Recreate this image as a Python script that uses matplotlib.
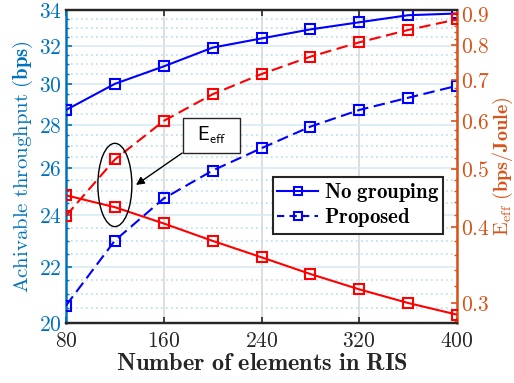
import numpy as np
import matplotlib
matplotlib.use('Agg')
import matplotlib.pyplot as plt
from matplotlib.ticker import FixedLocator, FixedFormatter, NullFormatter
from matplotlib.patches import Ellipse, Rectangle
from matplotlib.lines import Line2D

plt.rcParams['mathtext.fontset'] = 'cm'

# ---- data ----
n_elements = [80, 120, 160, 200, 240, 280, 320, 360, 400]
thr_no_grouping = [28.7, 30.0, 30.9, 31.9, 32.4, 32.9, 33.3, 33.7, 33.8]
thr_proposed = [20.6, 23.0, 24.7, 25.9, 26.9, 27.9, 28.7, 29.3, 29.9]
ee_no_grouping = [0.452, 0.432, 0.406, 0.380, 0.357, 0.335, 0.316, 0.300, 0.287]
ee_proposed = [0.418, 0.518, 0.600, 0.664, 0.717, 0.766, 0.809, 0.848, 0.883]

x_ticks = [80, 160, 240, 320, 400]
left_ticks = [20, 22, 24, 26, 28, 30, 32, 34]
right_ticks = [0.3, 0.4, 0.5, 0.6, 0.7, 0.8, 0.9]
legend_labels = ['No grouping', 'Proposed']

BLUE_AX = '#0072BD'
ORANGE_AX = '#D95319'
DARK = '#262626'
FS = 15.5

fig = plt.figure(figsize=(5.14, 3.83), dpi=100)
ax = fig.add_axes([66 / 514, 1 - 323 / 383, (457 - 66) / 514, 313 / 383])
ax2 = ax.twinx()

dash = (5.5, 2.7)
ax.plot(n_elements, thr_no_grouping, '-', color='blue', lw=1.5, marker='s',
        ms=7, mfc='none', mew=1.5, zorder=3)
lp, = ax.plot(n_elements, thr_proposed, '--', color='blue', lw=1.5, marker='s',
              ms=7, mfc='none', mew=1.5, zorder=3)
lp.set_dashes(dash)
ax2.plot(n_elements, ee_no_grouping, '-', color='red', lw=1.5, marker='s',
         ms=7, mfc='none', mew=1.5, zorder=3)
lr, = ax2.plot(n_elements, ee_proposed, '--', color='red', lw=1.5, marker='s',
               ms=7, mfc='none', mew=1.5, zorder=3)
lr.set_dashes(dash)

# x axis
ax.set_xlim(80, 400)
ax.set_xticks(x_ticks)
ax.set_xticklabels([f'${t}$' for t in x_ticks], fontsize=FS, color=DARK)
ax.set_xlabel(r'$\mathbf{Number\ of\ elements\ in\ RIS}$', fontsize=17.5, color=DARK, labelpad=0)

# left axis (log)
ax.set_yscale('log')
ax.set_ylim(20, 34)
ax.yaxis.set_major_locator(FixedLocator(left_ticks))
ax.yaxis.set_major_formatter(FixedFormatter([f'${t}$' for t in left_ticks]))
minor_left = [v for v in np.arange(20, 34.01, 0.5) if v not in left_ticks]
ax.yaxis.set_minor_locator(FixedLocator(minor_left))
ax.yaxis.set_minor_formatter(NullFormatter())
ax.set_ylabel(r'$\mathrm{Achivable\ throughput}\ \mathbf{(bps)}$', fontsize=15,
              color=BLUE_AX, labelpad=3)

# right axis (log)
ax2.set_yscale('log')
ax2.set_ylim(0.278, 0.915)
ax2.yaxis.set_major_locator(FixedLocator(right_ticks))
ax2.yaxis.set_major_formatter(FixedFormatter([f'${t}$' for t in right_ticks]))
minor_right = [v for v in np.arange(0.28, 0.911, 0.02) if min(abs(v - r) for r in right_ticks) > 1e-6]
ax2.yaxis.set_minor_locator(FixedLocator(minor_right))
ax2.yaxis.set_minor_formatter(NullFormatter())
fig.text(503 / 514, 1 - 166 / 383, r'$\mathrm{E}_{\mathrm{eff}}\ \mathbf{(bps/Joule)}$',
         fontsize=14.5, color=ORANGE_AX, rotation=90, ha='center', va='center')

# grid
ax.grid(True, axis='y', which='major', color='#d9eaf5', lw=1.2, ls='-')
ax.grid(True, axis='y', which='minor', color='#bcdcef', lw=1.2, ls=(0, (1, 2)))
ax.grid(True, axis='x', which='major', color='#dedede', lw=1.4, ls='-')
ax.set_axisbelow(True)

# ticks
ax.tick_params(axis='x', which='both', direction='in', top=True, color=DARK,
               length=4, width=1.2, labelsize=FS, pad=6)
ax.tick_params(axis='y', which='major', direction='in', color=BLUE_AX,
               labelcolor=BLUE_AX, length=4, width=1.2, labelsize=FS, right=False, pad=3)
ax.tick_params(axis='y', which='minor', direction='in', color=BLUE_AX,
               length=2.5, width=1.0, right=False)
ax2.tick_params(axis='y', which='major', direction='in', color=ORANGE_AX,
                labelcolor=ORANGE_AX, length=4, width=1.2, labelsize=FS, pad=3)
ax2.tick_params(axis='y', which='minor', direction='in', color=ORANGE_AX,
                length=2.5, width=1.0)

# spines
for a in (ax, ax2):
    a.spines['top'].set_color(DARK)
    a.spines['bottom'].set_color(DARK)
    a.spines['top'].set_linewidth(1.6)
    a.spines['bottom'].set_linewidth(1.6)
ax.spines['left'].set_color(BLUE_AX)
ax.spines['left'].set_linewidth(1.8)
ax.spines['right'].set_visible(False)
ax2.spines['left'].set_visible(False)
ax2.spines['right'].set_color(ORANGE_AX)
ax2.spines['right'].set_linewidth(1.8)

# legend
h1 = Line2D([], [], color='blue', lw=1.5, marker='s', ms=6, mfc='none', mew=1.5)
h2 = Line2D([], [], color='blue', lw=1.5, marker='s', ms=6, mfc='none', mew=1.5, ls='--')
h2.set_dashes((3.5, 2.5))
leg = ax2.legend([h1, h2], [r'$\mathbf{No\ grouping}$', r'$\mathbf{Proposed}$'],
                 loc='upper right', bbox_to_anchor=(0.964, 0.466),
                 fontsize=15, frameon=True, fancybox=False, framealpha=1,
                 edgecolor=DARK, handlelength=2.0, handletextpad=0.25,
                 borderpad=0.2, labelspacing=0.1, borderaxespad=0)
leg.get_frame().set_linewidth(1.5)
leg.set_zorder(10)

# annotation: ellipse, arrow, text box
ax2.add_patch(Ellipse((0.125, 0.441), 0.087, 0.266, transform=ax2.transAxes,
                      fill=False, ec='black', lw=1.0, zorder=5))
ax2.add_patch(Rectangle((0.299, 0.543), 0.146, 0.112, transform=ax2.transAxes,
                        fc='white', ec=DARK, lw=1.0, zorder=6))
ax2.text(0.372, 0.600, r'$\mathsf{E}_{\mathsf{eff}}$', transform=ax2.transAxes,
         ha='center', va='center', fontsize=14, zorder=7)
ax2.annotate('', xy=(0.179, 0.441), xytext=(0.297, 0.543),
             xycoords='axes fraction', textcoords='axes fraction',
             arrowprops=dict(arrowstyle='-|>', color='black', lw=1.0,
                             mutation_scale=12, shrinkA=0, shrinkB=0), zorder=6)

fig.savefig('out.png', dpi=100)
